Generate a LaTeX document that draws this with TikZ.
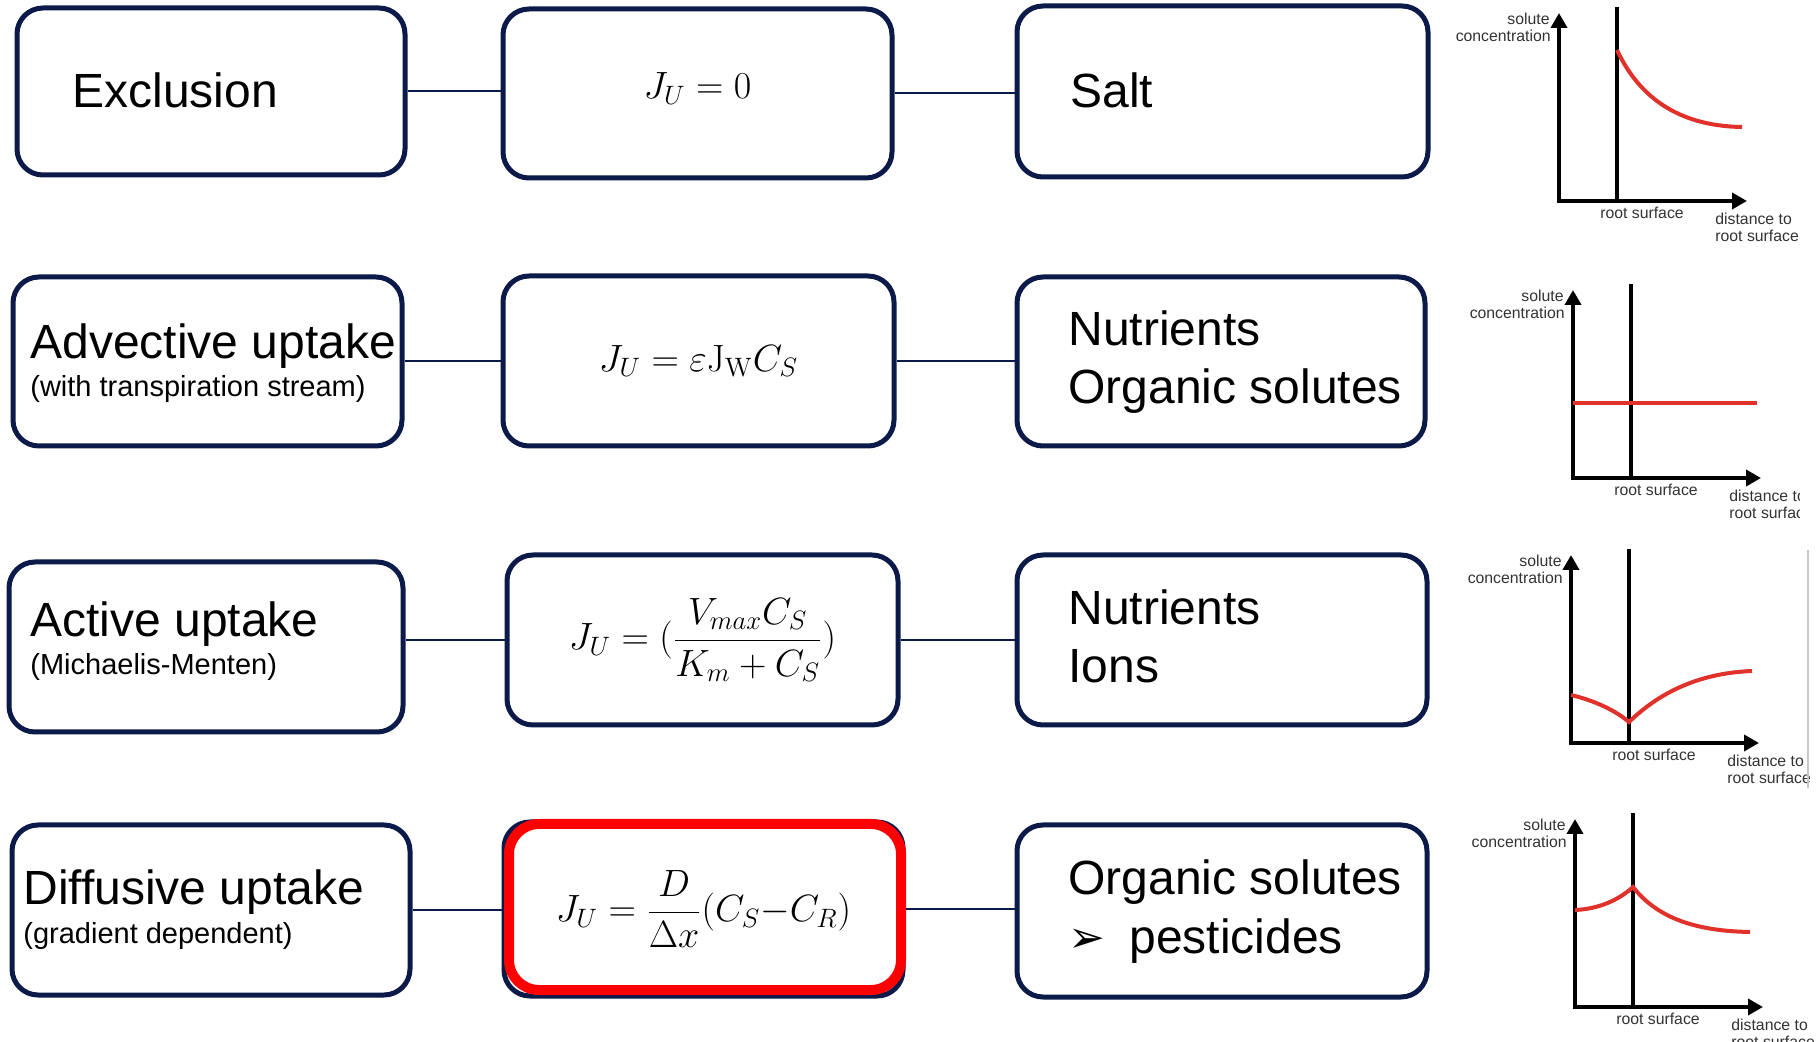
\RequirePackage{fix-cm}
\documentclass[tikz,border=0pt]{standalone}
\usepackage{amsmath}
\usepackage[no-math]{fontspec}
\setmainfont{Liberation Sans}
\newfontfamily\symfont{DejaVu Sans}
\usepackage{tikz}
\usetikzlibrary{arrows.meta,positioning}
\definecolor{inknavy}{HTML}{0B1A48}
\definecolor{curvered}{HTML}{E0312B}
\definecolor{boxred}{HTML}{FF0000}
\definecolor{plotgray}{HTML}{333333}
\tikzset{
  card/.style={
    draw=inknavy, fill=white, line width=2.5pt, rounded corners=13pt,
    inner sep=0pt
  },
  redframe/.style={
    draw=boxred, line width=5pt, rounded corners=15pt, inner sep=0pt
  },
  maintxt/.style={font=\fontsize{24}{29}\selectfont, inner sep=0pt, anchor=base west},
  subtxt/.style={font=\fontsize{14.5}{17}\selectfont, inner sep=0pt, anchor=base west},
  eqtxt/.style={font=\fontsize{19}{23}\selectfont},
  link/.style={draw=inknavy, line width=1pt},
  axis/.style={line width=2pt,
    {Triangle[length=7.5pt,width=8pt]}-{Triangle[length=7.5pt,width=8pt]}},
  rootline/.style={line width=1.8pt},
  profile/.style={draw=curvered, line width=2pt},
  plottxt/.style={font=\fontsize{7.9}{9}\selectfont, text=plotgray, inner sep=0pt}
}
% concentration profile next to the root
\newcommand{\rootgraph}[4]{%
  \begin{scope}[shift={(#1,#2)}]
    \draw[axis] (0,-188) -- (0,0) -- (188,0);
    \draw[rootline] (58,0) -- (58,-194);
    \draw[profile] #4;
    \node[plottxt, anchor=east] (#3sol) at (-9,-182) {solute};
    \node[plottxt, anchor=east] (#3conc) at (-8,-165) {concentration};
    \node[plottxt] (#3rs) at (83,12) {root surface};
    \node[plottxt, anchor=west] (#3dist) at (156,18) {distance to};
    \node[plottxt, anchor=west] (#3dsurf) at (156,35) {root surface};
  \end{scope}}

\begin{document}
\begin{tikzpicture}[x=0.5pt,y=-0.5pt]
\useasboundingbox[fill=white] (0,0) rectangle (1817,1042);

% mechanism
\node[card, minimum width=194pt, minimum height=83.5pt] (excl) at (211,91.5) {};
\node[card, minimum width=194.5pt, minimum height=84.5pt] (advec) at (207.5,361.5) {};
\node[card, minimum width=197pt, minimum height=85pt] (active) at (206,647) {};
\node[card, minimum width=199pt, minimum height=85pt] (diffus) at (211,910) {};

\node[maintxt] (exclT) at (72,108) {Exclusion};
\node[maintxt] (advecT) at (30,359) {Advective uptake};
\node[subtxt] (advecS) at (30,397) {(with transpiration stream)};
\node[maintxt] (activeT) at (30,637) {Active uptake};
\node[subtxt] (activeS) at (30,675) {(Michaelis-Menten)};
\node[maintxt] (diffusT) at (23,905) {Diffusive uptake};
\node[subtxt] (diffusS) at (23,943) {(gradient dependent)};

% uptake equations
\node[card, eqtxt, text depth=8pt, minimum width=194.5pt, minimum height=84.5pt] (eqA)
  at (697.5,93.5) {$J_U = 0$};
\node[card, eqtxt, minimum width=195.5pt, minimum height=85pt] (eqB) at (698.5,361)
  {$J_U = \varepsilon\mathrm{J}_{\mathrm{W}} C_S$};
\node[card, eqtxt, minimum width=195.5pt, minimum height=85pt] (eqC) at (702.5,640)
  {$J_U = (\dfrac{V_{max}C_S}{K_m + C_S})$};
\node[card, eqtxt, minimum width=199.5pt, minimum height=87pt] (eqD) at (703.5,909)
  {$J_U = \dfrac{D}{\Delta x}(C_S{-}C_R)$};
\node[redframe, minimum width=196pt, minimum height=83pt] (eqDred) at (705,907) {};

% solutes
\node[card, minimum width=205.5pt, minimum height=85.5pt] (salt) at (1222.5,91.5) {};
\node[card, minimum width=204pt, minimum height=84.5pt] (nutA) at (1221,361.5) {};
\node[card, minimum width=205pt, minimum height=85pt] (nutB) at (1222,640) {};
\node[card, minimum width=205pt, minimum height=86pt] (orgc) at (1222,911) {};

\node[maintxt] (saltT) at (1070,108) {Salt};
\node[maintxt] (nutAT) at (1068,346) {Nutrients};
\node[maintxt] (nutAS) at (1068,404) {Organic solutes};
\node[maintxt] (nutBT) at (1068,625) {Nutrients};
\node[maintxt] (nutBS) at (1068,683) {Ions};
\node[maintxt] (orgcT) at (1068,895) {Organic solutes};
\node[maintxt, font=\symfont\fontsize{22}{26}\selectfont] (orgcB) at (1068,952) {➢};
\node[maintxt] (orgcS) at (1129,953) {pesticides};

% links
\draw[link] (excl.east) -- (excl.east -| eqA.west);
\draw[link] (eqA.east) -- (eqA.east -| salt.west);
\draw[link] (advec.east) -- (advec.east -| eqB.west);
\draw[link] (eqB.east) -- (eqB.east -| nutA.west);
\draw[link] (eqC.west) -- (eqC.west -| active.east);
\draw[link] (eqC.east) -- (eqC.east -| nutB.west);
\draw[link] (diffus.east) -- (diffus.east -| eqD.west);
\draw[link] (eqD.east) -- (eqD.east -| orgc.west);

% profiles
\rootgraph{1559}{201}{gA}{(58,-151) .. controls (78,-108) and (115,-75) .. (183,-74)}
\begin{scope}
  \clip (1440,260) rectangle (1799,530);
  \rootgraph{1573}{478}{gB}{(0,-75) -- (184,-75)}
\end{scope}
\rootgraph{1571}{743}{gC}{(0,-48) .. controls (25,-42) and (45,-32) .. (58,-21)
  .. controls (90,-52) and (130,-70) .. (181,-72)}
\rootgraph{1575}{1007}{gD}{(0,-97) .. controls (25,-98) and (45,-108) .. (58,-120)
  .. controls (80,-92) and (115,-76) .. (175,-75)}
\draw[gray!45, line width=0.6pt] (1808,550) -- (1808,788);
\end{tikzpicture}
\end{document}
